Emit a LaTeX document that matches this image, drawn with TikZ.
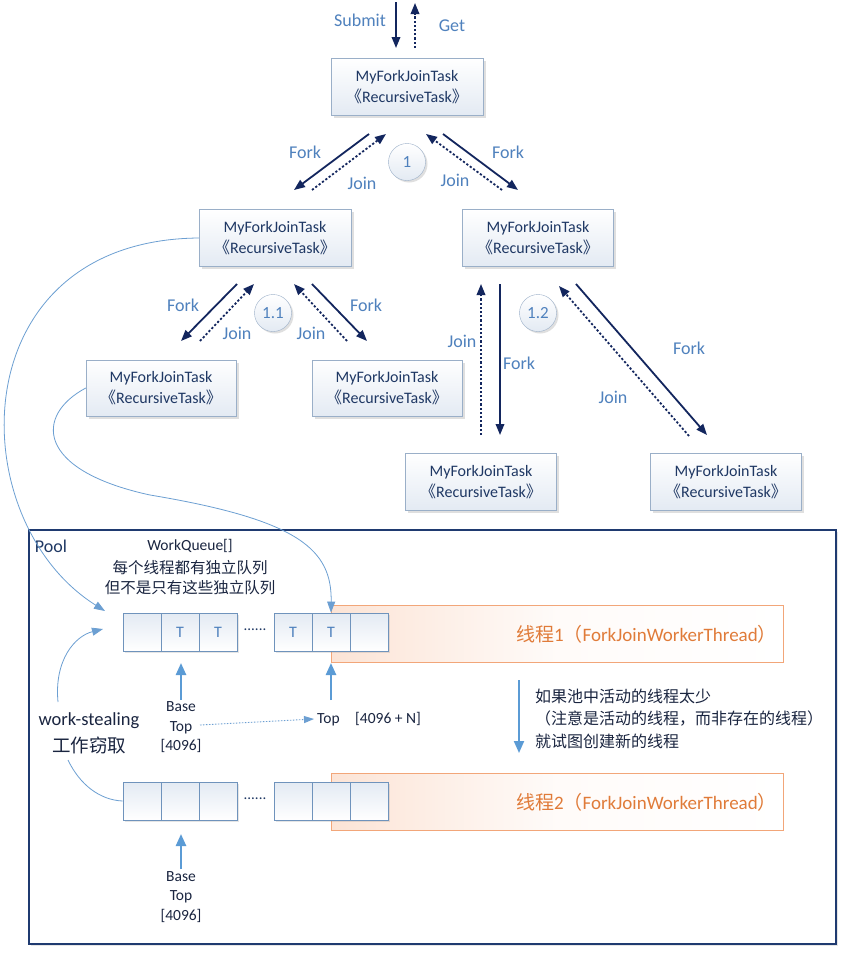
\documentclass[tikz,border=0pt]{standalone}
\usepackage{fontspec}
\setmainfont{Carlito}
\newfontfamily\cjk{Noto Sans CJK SC}
\usetikzlibrary{arrows.meta,shadows}
\definecolor{navy}{HTML}{13265E}
\definecolor{lblc}{HTML}{4F81BD}
\definecolor{boxtext}{HTML}{1F3864}
\definecolor{boxline}{HTML}{9AAFC8}
\definecolor{boxfill}{HTML}{E3EAF3}
\definecolor{qline}{HTML}{6F93BC}
\definecolor{qarrow}{HTML}{5B9BD5}
\definecolor{curvec}{HTML}{6C9FD2}
\definecolor{orangeline}{HTML}{F2A679}
\definecolor{orangefill}{HTML}{FCE4D6}
\definecolor{orangetext}{HTML}{E07B39}
\definecolor{poolline}{HTML}{1F3A70}
\definecolor{darktext}{HTML}{1A2540}
\begin{document}
\begin{tikzpicture}[x=1pt,y=-1pt,
  task/.style={draw=boxline, top color=white, bottom color=boxfill, minimum width=152pt, minimum height=57pt,
    align=center, text=boxtext, font=\fontsize{16}{21.5}\selectfont, inner sep=0pt,
    drop shadow={opacity=0.25,shadow xshift=2.5pt,shadow yshift=-2.5pt}},
  stepcircle/.style={circle, draw=boxline, top color=white, bottom color=boxfill, minimum size=37pt, inner sep=0pt,
    text=lblc, font=\fontsize{17}{20}\selectfont, drop shadow={opacity=0.25,shadow xshift=2pt,shadow yshift=-2pt}},
  fk/.style={navy, line width=1.8pt, -{Triangle[length=11pt,width=8.5pt]}},
  jn/.style={fk, dash pattern=on 2.2pt off 2pt},
  flabel/.style={text=lblc, font=\fontsize{18}{21}\selectfont, inner sep=0pt},
  cell/.style={draw=qline, line width=0.8pt, top color=boxfill, bottom color=white, minimum width=38pt, minimum height=38pt,
    inner sep=0pt, text=lblc, font=\fontsize{16}{18}\selectfont,
    drop shadow={opacity=0.2,shadow xshift=2pt,shadow yshift=-2pt}},
  qarr/.style={qarrow, line width=2.4pt, -{Triangle[length=12pt,width=10pt]}},
  curve/.style={curvec, line width=0.8pt, -{Triangle[length=11pt,width=8pt]}},
  darklabel/.style={text=darktext, font=\fontsize{15.5}{19.5}\selectfont, inner sep=0pt, align=center},
  threadbar/.style={draw=orangeline, line width=1pt, left color=orangefill, right color=white, middle color=white!85!orangefill, shading angle=90},
  threadtext/.style={text=orangetext, font=\fontsize{19}{22}\selectfont, inner sep=0pt, anchor=east}
]
\useasboundingbox (0,0) rectangle (846,953);
\fill[white] (0,0) rectangle (846,953);

% ---------------- tree -----------------
\node[task] (t0) at (407,87) {MyForkJoinTask\\{\cjk 《}RecursiveTask{\cjk 》}};
\node[task] (t1) at (275,238) {MyForkJoinTask\\{\cjk 《}RecursiveTask{\cjk 》}};
\node[task, minimum width=151pt] (t2) at (538,238) {MyForkJoinTask\\{\cjk 《}RecursiveTask{\cjk 》}};
\node[task, minimum width=150pt, minimum height=56pt] (t11) at (161,388) {MyForkJoinTask\\{\cjk 《}RecursiveTask{\cjk 》}};
\node[task, minimum width=150pt, minimum height=56pt] (t12) at (387,388) {MyForkJoinTask\\{\cjk 《}RecursiveTask{\cjk 》}};
\node[task, minimum width=151pt] (t21) at (481,482) {MyForkJoinTask\\{\cjk 《}RecursiveTask{\cjk 》}};
\node[task, minimum width=151pt] (t22) at (726,482) {MyForkJoinTask\\{\cjk 《}RecursiveTask{\cjk 》}};

\node[stepcircle] (c1) at (407,162) {1};
\node[stepcircle] (c11) at (273,313) {1.1};
\node[stepcircle] (c12) at (538,313) {1.2};

% submit / get
\coordinate (sa) at (396,2);   \coordinate (sb) at (396,48);
\coordinate (ga) at (415,48);  \coordinate (gb) at (415,3);
\draw[fk] (sa) -- (sb);
\draw[jn] (ga) -- (gb);
\node[flabel] (lsubmit) at (360,20) {Submit};
\node[flabel] (lget) at (452,26) {Get};

% level 1
\coordinate (f1a) at (369,134); \coordinate (f1b) at (294,190);
\coordinate (j1a) at (312,190); \coordinate (j1b) at (386,134);
\coordinate (j2a) at (502,190); \coordinate (j2b) at (426,134);
\coordinate (f2a) at (443,134); \coordinate (f2b) at (518,190);
\draw[fk] (f1a) -- (f1b);
\draw[jn] (j1a) -- (j1b);
\draw[jn] (j2a) -- (j2b);
\draw[fk] (f2a) -- (f2b);
\node[flabel] (l1) at (305,152) {Fork};
\node[flabel] (l2) at (362,183) {Join};
\node[flabel] (l3) at (455,180) {Join};
\node[flabel] (l4) at (508,152) {Fork};

% level 2 left
\coordinate (f3a) at (237,284); \coordinate (f3b) at (181,341);
\coordinate (j3a) at (200,341); \coordinate (j3b) at (254,284);
\coordinate (j4a) at (347,341); \coordinate (j4b) at (294,284);
\coordinate (f4a) at (312,284); \coordinate (f4b) at (367,341);
\draw[fk] (f3a) -- (f3b);
\draw[jn] (j3a) -- (j3b);
\draw[jn] (j4a) -- (j4b);
\draw[fk] (f4a) -- (f4b);
\node[flabel] (l5) at (183,305) {Fork};
\node[flabel] (l6) at (237,333) {Join};
\node[flabel] (l7) at (311,333) {Join};
\node[flabel] (l8) at (366,305) {Fork};

% level 2 right
\coordinate (f5a) at (500,284); \coordinate (f5b) at (500,435);
\coordinate (j5a) at (481,435); \coordinate (j5b) at (481,284);
\coordinate (j6a) at (689,436); \coordinate (j6b) at (559,286);
\coordinate (f6a) at (576,284); \coordinate (f6b) at (707,435);
\draw[fk] (f5a) -- (f5b);
\draw[jn] (j5a) -- (j5b);
\draw[jn] (j6a) -- (j6b);
\draw[fk] (f6a) -- (f6b);
\node[flabel] (l9) at (462,341) {Join};
\node[flabel] (l10) at (519,363) {Fork};
\node[flabel] (l11) at (689,348) {Fork};
\node[flabel] (l12) at (613,397) {Join};

% ---------------- pool -----------------
\draw[poolline, line width=2pt, drop shadow={opacity=0.2,shadow xshift=2pt,shadow yshift=-2pt}, fill=white] (29,530) rectangle (836,944);
\node[text=boxtext, font=\fontsize{18}{21}\selectfont, inner sep=0pt] (lpool) at (51,546) {Pool};
\node[darklabel, font=\fontsize{15.5}{20}\selectfont] (lwq) at (190,546) {WorkQueue[]};
\node[darklabel, font=\cjk\fontsize{15.5}{20.5}\selectfont] (lwq2) at (190,577.5) {每个线程都有独立队列\\但不是只有这些独立队列};

% thread bars
\draw[threadbar] (331,605) rectangle (783,662);
\draw[threadbar] (331,773) rectangle (783,830);
\node[threadtext] (th1) at (777,634) {{\cjk 线程}1{\cjk （}ForkJoinWorkerThread{\cjk ）}};
\node[threadtext] (th2) at (777,802) {{\cjk 线程}2{\cjk （}ForkJoinWorkerThread{\cjk ）}};

% queue 1
\node[cell] (q1a) at (142,632) {};
\node[cell] (q1b) at (180,632) {T};
\node[cell] (q1c) at (218,632) {T};
\node[cell] (q1d) at (293,632) {T};
\node[cell] (q1e) at (331,632) {T};
\node[cell] (q1f) at (369,632) {};
\node[text=boxtext, font=\fontsize{15}{16}\selectfont, inner sep=0pt] (dots1) at (255,630) {......};
% queue 2
\node[cell] (q2a) at (142,801) {};
\node[cell] (q2b) at (180,801) {};
\node[cell] (q2c) at (218,801) {};
\node[cell] (q2d) at (293,801) {};
\node[cell] (q2e) at (331,801) {};
\node[cell] (q2f) at (369,801) {};
\node[text=boxtext, font=\fontsize{15}{16}\selectfont, inner sep=0pt] (dots2) at (255,799) {......};

% queue pointers
\node[darklabel] (lbase1) at (181,727.5) {Base\\Top\\{[4096]}};
\node[darklabel, anchor=west] (ltop1) at (317,719) {Top\quad{[4096 + N]}};
\node[darklabel] (lbase2) at (181,897) {Base\\Top\\{[4096]}};
\coordinate (p1a) at (181,700); \coordinate (p1b) at (181,663);
\coordinate (p2a) at (331,700); \coordinate (p2b) at (331,663);
\coordinate (p3a) at (181,869); \coordinate (p3b) at (181,834);
\draw[qarr] (p1a) -- (p1b);
\draw[qarr] (p2a) -- (p2b);
\draw[qarr] (p3a) -- (p3b);
\coordinate (da) at (200,725);
\draw[curvec, line width=0.9pt, dash pattern=on 1.5pt off 1.5pt, -{Triangle[length=10pt,width=7pt]}] (da) -- ([xshift=-3pt]ltop1.west);

% work stealing
\node[text=darktext, font=\fontsize{18.5}{21}\selectfont, inner sep=0pt] (lws) at (89,721) {work-stealing};
\node[text=darktext, font=\cjk\fontsize{18.5}{21}\selectfont, inner sep=0pt] (lws2) at (89,745) {工作窃取};
\coordinate (wsa) at (58,702); \coordinate (wsb) at (103,629);
\draw[curve] (wsa) .. controls (54,660) and (75,636) .. (wsb);
\coordinate (wsc) at (68,760);
\draw[curvec, line width=0.8pt] (wsc) .. controls (80,785) and (100,800) .. (q2a.west);

% new thread note
\coordinate (na) at (519,680); \coordinate (nb) at (519,753);
\draw[qarr, line width=2pt] (na) -- (nb);
\node[text=darktext, font=\cjk\fontsize{16}{22.5}\selectfont, inner sep=0pt, align=left, anchor=west] (lnote) at (535,718.5)
  {如果池中活动的线程太少\\（注意是活动的线程，而非存在的线程）\\就试图创建新的线程};

% curves from tasks to queues
\coordinate (qin) at (105,611);
\draw[curve] (t1.west) .. controls (-40,240) and (-40,520) .. (qin);
\draw[curve] (t11.west) .. controls (35,415) and (35,470) .. (150,495) .. controls (300,520) and (332,550) .. (q1e.north);
\end{tikzpicture}
\end{document}
